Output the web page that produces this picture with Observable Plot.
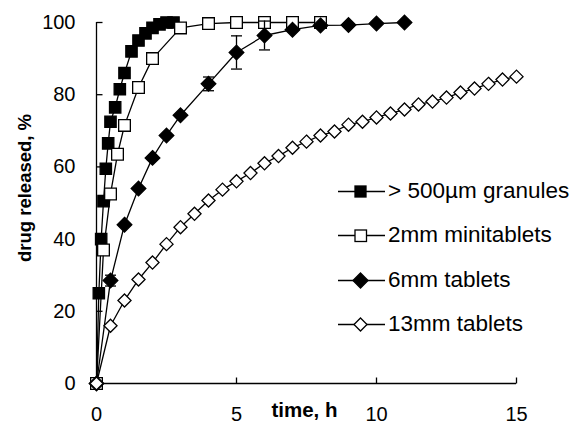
<!DOCTYPE html>
<html><head><meta charset="utf-8">
<script src="https://cdn.jsdelivr.net/npm/d3@7"></script>
<script src="https://cdn.jsdelivr.net/npm/@observablehq/plot@0.6"></script>
<style>
body{margin:0;background:#fff;font-family:"Liberation Sans",Arial,sans-serif;}
#wrap{position:relative;width:573px;height:430px;overflow:hidden;}
.item{position:absolute;left:338px;display:flex;align-items:center;white-space:nowrap;font-size:22.5px;color:#000;}
.item svg{display:block;margin-right:3px;}
</style></head><body><div id="wrap"></div>
<script>
const seriesNames = ["> 500µm granules", "2mm minitablets", "6mm tablets", "13mm tablets"];
const xTitle = "time, h";
const yTitle = "drug released, %";
const xTicks = [0, 5, 10, 15];
const yTicks = [0, 20, 40, 60, 80, 100];

const granT = [0, 0.083, 0.167, 0.25, 0.333, 0.417, 0.5, 0.667, 0.833, 1, 1.25, 1.5, 1.75, 2, 2.25, 2.5, 2.75];
const granV = [0, 25, 40, 50.5, 59.5, 66.5, 72.5, 76.5, 81.5, 86, 92, 95, 97, 98.5, 99.5, 100, 100];

const miniT = [0, 0.25, 0.5, 0.75, 1, 1.5, 2, 3, 4, 5, 6, 7, 8];
const miniV = [0, 37, 52.5, 63.5, 71.5, 82, 90, 98.5, 99.7, 100, 100, 100, 100];

const sixT = [0, 0.5, 1, 1.5, 2, 2.5, 3, 4, 5, 6, 7, 8, 9, 10, 11];
const sixV = [0, 28.5, 44, 54, 62.5, 68.7, 74.3, 83, 91.7, 96.4, 98, 99.2, 99.3, 99.7, 100];
const sixErrT = [0.5, 4, 5, 6];
const sixErrV = [28.5, 83, 91.7, 96.4];
const sixErrE = [1.5, 1.9, 4.6, 4];

const thirteenT = [0, 0.5, 1, 1.5, 2, 2.5, 3, 3.5, 4, 4.5, 5, 5.5, 6, 6.5, 7, 7.5, 8, 8.5, 9, 9.5, 10, 10.5, 11, 11.5, 12, 12.5, 13, 13.5, 14, 14.5, 15];
const thirteenV = [0, 16, 23, 28.8, 33.5, 38.6, 43.3, 47, 50.7, 53.7, 56, 58.3, 61, 63, 65.3, 67, 68.7, 69.8, 71.7, 72.5, 73.7, 74.8, 75.9, 77.3, 78.1, 79.2, 80.6, 81.7, 83, 84.2, 85];

const zip = (T, V) => T.map((t, i) => ({t, v: V[i]}));
const series = [
  {data: zip(granT, granV), symbol: "square", fill: "black", r: 6.4},
  {data: zip(miniT, miniV), symbol: "square", fill: "white", r: 6.6},
  {data: zip(sixT, sixV), symbol: "diamond2", fill: "black", r: 6.6},
  {data: zip(thirteenT, thirteenV), symbol: "diamond2", fill: "white", r: 5.9}
];
const errData = sixErrT.map((t, i) => ({t, v: sixErrV[i], e: sixErrE[i]}));

const capSymbol = {draw(ctx) { ctx.moveTo(-5.5, 0); ctx.lineTo(5.5, 0); }};
const tickRight = {draw(ctx) { ctx.moveTo(0, 0); ctx.lineTo(6, 0); }};
const tickUp = {draw(ctx) { ctx.moveTo(0, 0); ctx.lineTo(0, -6); }};

const marks = [
  Plot.ruleX([0], {stroke: "black", strokeWidth: 1.3}),
  Plot.ruleY([0], {stroke: "black", strokeWidth: 1.3}),
  Plot.dot(yTicks, {x: 0, y: d => d, symbol: tickRight, stroke: "black", strokeWidth: 1.3}),
  Plot.dot(xTicks, {x: d => d, y: 0, symbol: tickUp, stroke: "black", strokeWidth: 1.3}),
  Plot.axisY(yTicks, {tickSize: 0, tickPadding: 21, fontSize: 20, label: null}),
  Plot.axisX(xTicks, {tickSize: 0, tickPadding: 23, fontSize: 20, label: null}),
  Plot.text([yTitle], {frameAnchor: "left", textAnchor: "middle", rotate: -90, dx: -71, dy: -15, fontWeight: "bold", fontSize: 18.5, fill: "black"}),
  Plot.text([xTitle], {frameAnchor: "bottom", textAnchor: "middle", dx: -2, dy: 33, fontWeight: "bold", fontSize: 20.5, fill: "black"})
];
series.forEach((s, i) => {
  marks.push(Plot.line(s.data, {x: "t", y: "v", stroke: "black", strokeWidth: 1.3}));
  if (i === 2) {
    marks.push(Plot.ruleX(errData, {x: "t", y1: d => d.v - d.e, y2: d => d.v + d.e, stroke: "black", strokeWidth: 1.3}));
    marks.push(Plot.dot(errData, {x: "t", y: d => d.v - d.e, symbol: capSymbol, stroke: "black", strokeWidth: 1.3}));
    marks.push(Plot.dot(errData, {x: "t", y: d => d.v + d.e, symbol: capSymbol, stroke: "black", strokeWidth: 1.3}));
  }
  marks.push(Plot.dot(s.data, {x: "t", y: "v", symbol: s.symbol, r: s.r, fill: s.fill, stroke: "black", strokeWidth: 1.3}));
});

const chart = Plot.plot({
  width: 573, height: 430,
  marginLeft: 96, marginRight: 57, marginTop: 22, marginBottom: 47,
  style: {fontFamily: "'Liberation Sans', Arial, sans-serif", fontSize: "20px", background: "white", color: "black"},
  x: {domain: [0, 15], axis: null},
  y: {domain: [0, 100], axis: null},
  marks
});
const wrap = document.getElementById("wrap");
wrap.appendChild(chart);

// legend (HTML overlay)
const legendY = [189, 233, 278, 322];
const symPaths = [
  '<rect x="17" y="4" width="11" height="11" fill="black" stroke="black" stroke-width="1.3"/>',
  '<rect x="17" y="4" width="11.5" height="11.5" fill="white" stroke="black" stroke-width="1.3"/>',
  '<path d="M22.5 2 L30 9.5 L22.5 17 L15 9.5 Z" fill="black" stroke="black" stroke-width="1.3"/>',
  '<path d="M22.5 3 L29 9.5 L22.5 16 L16 9.5 Z" fill="white" stroke="black" stroke-width="1.3"/>'
];
seriesNames.forEach((name, i) => {
  const div = document.createElement("div");
  div.className = "item";
  div.style.top = (legendY[i] - 11) + "px";
  div.innerHTML = `<svg width="47" height="19" viewBox="0 0 47 19"><line x1="0" y1="9.5" x2="47" y2="9.5" stroke="black" stroke-width="1.3"/>${symPaths[i]}</svg><span>${name}</span>`;
  wrap.appendChild(div);
});
</script></body></html>
